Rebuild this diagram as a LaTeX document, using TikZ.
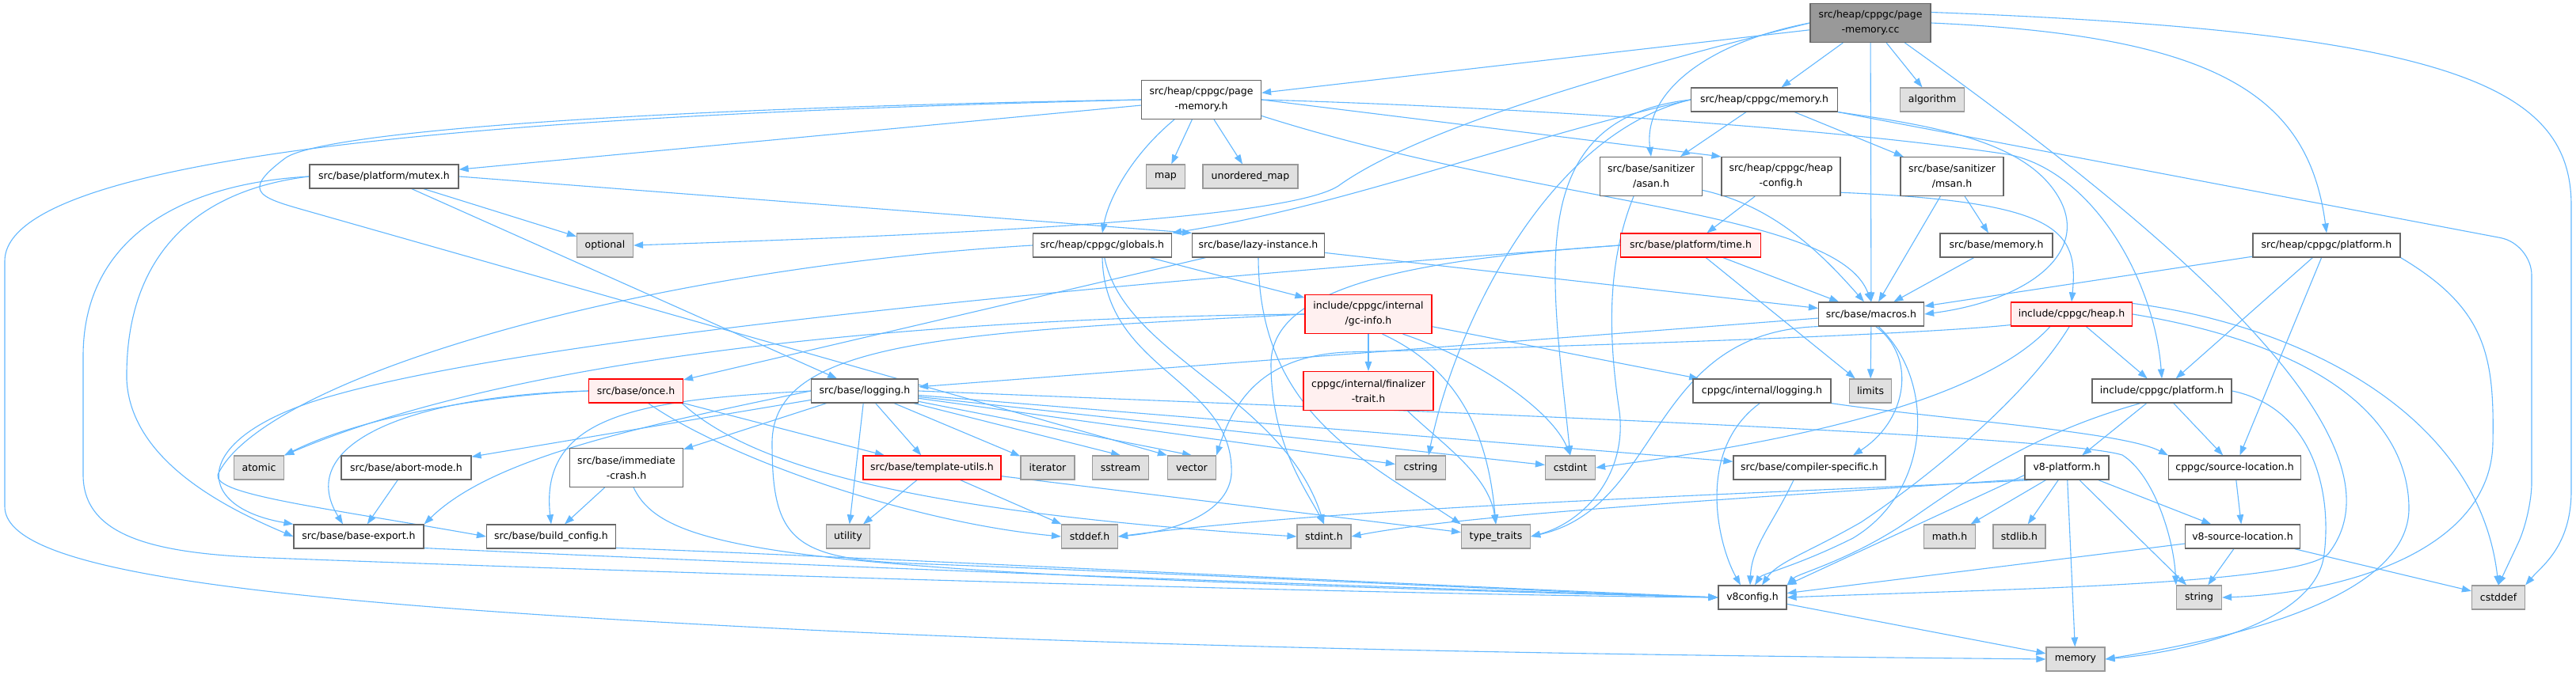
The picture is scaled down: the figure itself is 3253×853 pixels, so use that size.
\documentclass[tikz,border=0pt]{standalone}
\usepackage{fontspec}
\setmainfont{DejaVu Sans}
\usetikzlibrary{arrows.meta, positioning, backgrounds}

\definecolor{edgeblue}{HTML}{63B8FF}
\definecolor{boxgray}{HTML}{666666}
\definecolor{sysgray}{HTML}{999999}
\definecolor{sysfill}{HTML}{E0E0E0}
\definecolor{redfill}{HTML}{FFF0F0}
\definecolor{rootfill}{HTML}{999999}

\tikzset{
  hdr/.style={draw=boxgray, fill=white, line width=1.2pt, minimum height=30pt,
    inner xsep=8pt, inner ysep=0pt, align=center, font=\fontsize{12.5}{19}\selectfont},
  twoline/.style={minimum height=49pt},
  hdrred/.style={hdr, draw=red, fill=redfill},
  hdrsys/.style={hdr, draw=sysgray, fill=sysfill},
  hdrroot/.style={hdr, fill=rootfill},
  dep/.style={draw=edgeblue, line width=1.1pt, -{Triangle[length=12pt,width=8.5pt]}}
}

\begin{document}
\begin{tikzpicture}[x=1pt, y=-1pt]
\useasboundingbox (0,0) rectangle (3253,853);

% files, row by row
\node[hdrroot, twoline, minimum width=152pt] (pmcc) at (2362,29) {src/heap/cppgc/page\\-memory.cc};

\node[hdr, twoline, minimum width=151pt] (pmh) at (1517,126) {src/heap/cppgc/page\\-memory.h};
\node[hdr, minimum width=185pt] (memh) at (2228,126) {src/heap/cppgc/memory.h};
\node[hdrsys, minimum width=81pt] (algo) at (2440,126) {algorithm};

\node[hdr, minimum width=188pt] (mutex) at (485,223) {src/base/platform/mutex.h};
\node[hdrsys, minimum width=49pt] (map) at (1472,223) {map};
\node[hdrsys, minimum width=120pt] (umap) at (1579,223) {unordered\_map};
\node[hdr, twoline, minimum width=129pt] (asan) at (2085,223) {src/base/sanitizer\\/asan.h};
\node[hdr, twoline, minimum width=150pt] (heapcfg) at (2249,223) {src/heap/cppgc/heap\\-config.h};
\node[hdr, twoline, minimum width=130pt] (msan) at (2465,223) {src/base/sanitizer\\/msan.h};

\node[hdrsys, minimum width=71pt] (optional) at (764,310) {optional};
\node[hdr, minimum width=175pt] (globals) at (1392,310) {src/heap/cppgc/globals.h};
\node[hdr, minimum width=166pt] (lazy) at (1589,310) {src/base/lazy-instance.h};
\node[hdrred, minimum width=177pt] (ptime) at (2135,310) {src/base/platform/time.h};
\node[hdr, minimum width=142pt] (bmem) at (2521,310) {src/base/memory.h};
\node[hdr, minimum width=186pt] (cplat) at (2938,310) {src/heap/cppgc/platform.h};

\node[hdrred, twoline, minimum width=160pt] (gcinfo) at (1728,397) {include/cppgc/internal\\/gc-info.h};
\node[hdr, minimum width=133pt] (macros) at (2363,397) {src/base/macros.h};
\node[hdrred, minimum width=153pt] (heap) at (2616,397) {include/cppgc/heap.h};

\node[hdrred, minimum width=119pt] (once) at (803,494) {src/base/once.h};
\node[hdr, minimum width=135pt] (logging) at (1092,494) {src/base/logging.h};
\node[hdrred, twoline, minimum width=164pt] (final) at (1728,494) {cppgc/internal/finalizer\\-trait.h};
\node[hdr, minimum width=174pt] (ilog) at (2225,494) {cppgc/internal/logging.h};
\node[hdrsys, minimum width=53pt] (limits) at (2362,494) {limits};
\node[hdr, minimum width=176pt] (iplat) at (2730,494) {include/cppgc/platform.h};

\node[hdrsys, minimum width=63pt] (atomic) at (327,591) {atomic};
\node[hdr, minimum width=164pt] (abort) at (513,591) {src/base/abort-mode.h};
\node[hdr, twoline, minimum width=143pt] (crash) at (791,591) {src/base/immediate\\-crash.h};
\node[hdrred, minimum width=174pt] (tmpl) at (1177,591) {src/base/template-utils.h};
\node[hdrsys, minimum width=68pt] (iter) at (1323,591) {iterator};
\node[hdrsys, minimum width=71pt] (sstream) at (1415,591) {sstream};
\node[hdrsys, minimum width=61pt] (vector) at (1505,591) {vector};
\node[hdrsys, minimum width=63pt] (cstring) at (1794,591) {cstring};
\node[hdrsys, minimum width=63pt] (cstdint) at (1983,591) {cstdint};
\node[hdr, minimum width=192pt] (compiler) at (2285,591) {src/base/compiler-specific.h};
\node[hdr, minimum width=106pt] (v8plat) at (2610,591) {v8-platform.h};
\node[hdr, minimum width=167pt] (srcloc) at (2822,591) {cppgc/source-location.h};

\node[hdr, minimum width=164pt] (export) at (453,678) {src/base/base-export.h};
\node[hdr, minimum width=163pt] (bcfg) at (696,678) {src/base/build\_config.h};
\node[hdrsys, minimum width=55pt] (utility) at (1071,678) {utility};
\node[hdrsys, minimum width=71pt] (stddef) at (1376,678) {stddef.h};
\node[hdrsys, minimum width=68pt] (stdint) at (1672,678) {stdint.h};
\node[hdrsys, minimum width=87pt] (ttraits) at (1889,678) {type\_traits};
\node[hdrsys, minimum width=65pt] (math) at (2462,678) {math.h};
\node[hdrsys, minimum width=66pt] (stdlib) at (2550,678) {stdlib.h};
\node[hdr, minimum width=145pt] (v8sl) at (2832,678) {v8-source-location.h};

\node[hdr, minimum width=86pt] (v8cfg) at (2213,755) {v8config.h};
\node[hdrsys, minimum width=57pt] (string) at (2777,755) {string};
\node[hdrsys, minimum width=67pt] (cstddef) at (3155,755) {cstddef};

\node[hdrsys, minimum width=74pt] (memory) at (2621,833) {memory};

\begin{scope}[on background layer]
\fill[white] (0,0) rectangle (3253,853);

% page-memory.cc
\draw[dep] (pmcc) -- (pmh);
\draw[dep] (pmcc) -- (memh);
\draw[dep] (pmcc) -- (algo);
\draw[dep] (pmcc) -- (macros);
\draw[dep] (pmcc.west) .. controls (2150,55) and (2075,120) .. (asan.north);
\draw[dep] (pmcc.west) .. controls (2000,100) and (1780,170) .. (1690,235) .. controls (1620,280) and (1150,298) .. (optional.east);
\draw[dep] (pmcc.east) .. controls (2800,45) and (2915,120) .. (cplat.north);
\draw[dep] (pmcc.10) .. controls (3100,40) and (3247,110) .. (3247,260) -- (3247,620) .. controls (3247,690) and (3210,715) .. (cstddef.north east);
\draw[dep] (pmcc.-30) .. controls (2750,300) and (3050,560) .. (2940,700) .. controls (2900,740) and (2500,745) .. (v8cfg.east);

% page-memory.h
\draw[dep] (pmh) -- (mutex);
\draw[dep] (pmh) -- (map);
\draw[dep] (pmh) -- (umap);
\draw[dep] ([xshift=-34pt]pmh.south) .. controls (1430,195) and (1400,250) .. (globals.north);
\draw[dep] (pmh.east) -- (heapcfg.north west);
\draw[dep] (pmh.-15) .. controls (1950,260) and (2320,265) .. (macros.north);
\draw[dep] (pmh.east) .. controls (1900,135) and (2300,160) .. (2535,195) .. controls (2640,215) and (2720,350) .. (iplat.north);
\draw[dep] (pmh.west) .. controls (900,140) and (6,170) .. (6,330) -- (6,640) .. controls (6,720) and (300,760) .. (1000,795) .. controls (1600,825) and (2300,830) .. (memory.west);
\draw[dep] (pmh.west) .. controls (750,138) and (400,170) .. (360,200) .. controls (300,245) and (330,250) .. (400,270) -- (vector.north west);

% memory.h
\draw[dep] (memh) -- (asan);
\draw[dep] (memh) -- (msan);
\draw[dep] (memh.south east) .. controls (2450,160) and (2560,180) .. (2600,250) .. controls (2640,320) and (2560,380) .. (macros.east);
\draw[dep] (memh.west) .. controls (1900,180) and (1700,260) .. (globals.north east);
\draw[dep] (memh.west) .. controls (1950,170) and (1835,420) .. ([xshift=10pt]cstring.north);
\draw[dep] (memh.west) .. controls (1920,150) and (1960,350) .. (cstdint.north);
\draw[dep, rounded corners=40pt] (memh.south east) -- (3197,308) -- (3197,650) -- (cstddef.north);

% mutex.h
\draw[dep] (mutex) -- (optional);
\draw[dep] (mutex) -- (logging);
\draw[dep] (mutex.east) -- (lazy.north west);
\draw[dep] (mutex.west) .. controls (230,232) and (105,300) .. (105,450) -- (105,600) .. controls (105,680) and (200,700) .. (340,705) .. controls (1000,730) and (1800,752) .. (v8cfg.west);
\draw[dep] (mutex.west) .. controls (250,240) and (158,320) .. (160,480) .. controls (165,580) and (280,640) .. (export.west);

% sanitizers, heap-config, memory
\draw[dep] (asan.-15) .. controls (2240,260) and (2300,320) .. (macros.120);
\draw[dep] ([xshift=-22pt]asan.south) .. controls (2030,330) and (2030,420) .. (2045,520) .. controls (2055,600) and (2000,660) .. (ttraits.east);
\draw[dep] (heapcfg) -- (ptime);
\draw[dep] (heapcfg.-15) .. controls (2600,255) and (2625,290) .. (heap.north);
\draw[dep] (msan) -- (macros);
\draw[dep] (msan) -- (bmem);
\draw[dep] (bmem) -- (macros);

% lazy-instance.h
\draw[dep] (lazy) -- (once);
\draw[dep] (lazy) -- (macros);
\draw[dep] (lazy.south) .. controls (1590,520) and (1720,580) .. (ttraits.north west);

% time.h
\draw[dep] (ptime) -- (macros);
\draw[dep] (ptime) -- (limits);
\draw[dep] (ptime.west) .. controls (1750,330) and (1605,370) .. (1605,460) .. controls (1605,560) and (1650,620) .. (stdint.north);
\draw[dep] (ptime.west) .. controls (1500,350) and (700,420) .. (420,500) .. controls (240,550) and (240,640) .. (export.north west);

% globals.h
\draw[dep] (globals) -- (gcinfo);
\draw[dep] (globals.west) .. controls (800,340) and (330,480) .. (275,600) .. controls (270,625) and (400,640) .. (bcfg.west);
\draw[dep] (globals.south) .. controls (1395,470) and (1560,480) .. (1555,600) .. controls (1550,650) and (1480,672) .. (stddef.east);
\draw[dep] (globals.-80) .. controls (1420,450) and (1620,500) .. (stdint.north);

% gc-info.h
\draw[dep] (gcinfo) -- (final);
\draw[dep] (gcinfo) -- (ilog);
\draw[dep] (gcinfo.west) .. controls (1300,400) and (700,430) .. (atomic.north east);
\draw[dep] (gcinfo.-30) .. controls (1870,455) and (1960,520) .. (cstdint.north);
\draw[dep] (gcinfo.-55) .. controls (1850,470) and (1880,560) .. (ttraits.north);
\draw[dep] (gcinfo.west) .. controls (1200,420) and (975,430) .. (975,560) .. controls (975,680) and (1000,706) .. (1150,712) .. controls (1500,725) and (2000,750) .. (v8cfg.west);
\draw[dep] (final.-27) .. controls (1820,560) and (1880,600) .. (ttraits.north);

% once.h
\draw[dep] (once.west) .. controls (600,500) and (450,530) .. (atomic.north east);
\draw[dep] (once.west) .. controls (520,500) and (370,560) .. ([xshift=-20pt]export.north);
\draw[dep] (once) -- (tmpl);
\draw[dep] (once.-45) .. controls (920,580) and (1150,660) .. (stddef.west);
\draw[dep] (once.-15) .. controls (960,600) and (1200,650) .. (stdint.west);

% logging.h
\draw[dep] (logging) -- (abort);
\draw[dep] (logging.west) .. controls (800,540) and (620,580) .. (export.north east);
\draw[dep] (logging.west) .. controls (820,505) and (680,520) .. (bcfg.north);
\draw[dep] (logging) -- (crash);
\draw[dep] (logging) -- (tmpl);
\draw[dep] (logging) -- (iter);
\draw[dep] (logging) -- (sstream.north);
\draw[dep] (logging) -- (vector.north);
\draw[dep] (logging) -- (cstring);
\draw[dep] (logging) -- (cstdint);
\draw[dep] (logging) -- (compiler);
\draw[dep] (logging) -- (utility);
\draw[dep] (logging.east) .. controls (1800,520) and (2600,550) .. (2680,575) .. controls (2720,600) and (2745,680) .. (string.north west);

% macros.h
\draw[dep] (macros) -- (logging);
\draw[dep] (macros) -- (limits);
\draw[dep] (macros.south west) .. controls (2080,420) and (2100,640) .. (ttraits.east);
\draw[dep] (macros.-70) .. controls (2420,450) and (2410,530) .. ([xshift=55pt]compiler.north);
\draw[dep] (macros.-60) .. controls (2445,480) and (2440,620) .. (2340,680) .. controls (2270,715) and (2225,725) .. ([xshift=3pt]v8cfg.north);

% heap.h
\draw[dep] (heap) -- (iplat);
\draw[dep] (heap.-170) .. controls (2400,425) and (1900,440) .. (1700,445) .. controls (1600,450) and (1560,500) .. (vector.north east);
\draw[dep] (heap.-150) .. controls (2500,510) and (2250,560) .. (cstdint.east);
\draw[dep] (heap.-100) .. controls (2560,500) and (2440,600) .. (2350,660) .. controls (2280,700) and (2245,710) .. ([xshift=12pt]v8cfg.north);
\draw[dep] (heap.10) .. controls (2900,410) and (3130,520) .. (cstddef.north);
\draw[dep] (heap.east) .. controls (2950,440) and (3040,540) .. (3042,640) .. controls (3045,760) and (2800,810) .. (memory.east);

% platform headers
\draw[dep] (cplat) -- (macros);
\draw[dep] (cplat) -- (iplat);
\draw[dep] (cplat) -- (srcloc);
\draw[dep] (cplat.south east) .. controls (3140,390) and (3150,450) .. (3148,560) .. controls (3145,700) and (2950,750) .. (string.east);
\draw[dep] (iplat) -- (v8plat);
\draw[dep] (iplat) -- (srcloc);
\draw[dep] (iplat.-150) .. controls (2560,550) and (2480,610) .. (2400,665) .. controls (2330,710) and (2270,725) .. (v8cfg.north east);
\draw[dep] (iplat.east) .. controls (2920,515) and (2945,620) .. (2935,700) .. controls (2925,790) and (2750,825) .. (memory.east);
\draw[dep] (ilog.-100) .. controls (2140,570) and (2170,690) .. ([xshift=-15pt]v8cfg.north);
\draw[dep] (ilog.south east) .. controls (2450,530) and (2680,545) .. (srcloc.north west);

% v8-platform.h
\draw[dep] (v8plat) -- (math);
\draw[dep] (v8plat) -- (stdlib);
\draw[dep] (v8plat) -- (memory);
\draw[dep] (v8plat) -- (string);
\draw[dep] (v8plat) -- (v8sl);
\draw[dep] (v8plat.-170) -- (v8cfg.north east);
\draw[dep] (v8plat.-160) .. controls (2200,625) and (1700,640) .. (stddef.east);
\draw[dep] (v8plat.-165) .. controls (2200,630) and (1850,650) .. (stdint.east);
\draw[dep] (srcloc) -- (v8sl);
\draw[dep] (v8sl) -- (cstddef);
\draw[dep] (v8sl) -- (string);
\draw[dep] (v8sl) -- (v8cfg);

% lower base headers
\draw[dep] ([xshift=-20pt]compiler.south) .. controls (2240,660) and (2212,690) .. ([xshift=-3pt]v8cfg.north);
\draw[dep] (abort) -- (export);
\draw[dep] (crash) -- (bcfg);
\draw[dep] (crash.-70) .. controls (840,700) and (1000,725) .. (v8cfg.west);
\draw[dep] (export.-10) .. controls (800,705) and (1500,735) .. (v8cfg.west);
\draw[dep] (bcfg.-10) .. controls (1000,700) and (1700,735) .. (v8cfg.west);
\draw[dep] (tmpl) -- (utility);
\draw[dep] (tmpl) -- (stddef);
\draw[dep] (tmpl) -- (ttraits);
\draw[dep] (v8cfg) -- (memory);
\end{scope}
\end{tikzpicture}
\end{document}
